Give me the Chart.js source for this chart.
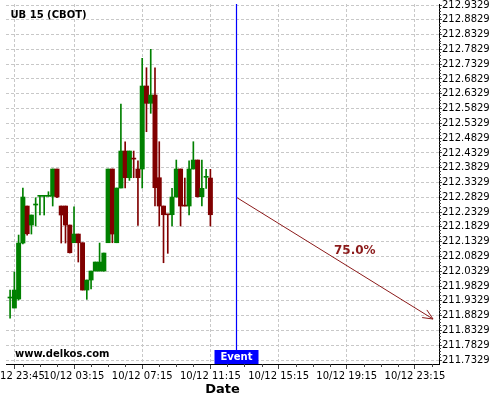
<!DOCTYPE html>
<html>
<head>
<meta charset="utf-8">
<script src="https://cdn.jsdelivr.net/npm/chart.js@4.4.1/dist/chart.umd.min.js"></script>
<style>
  html, body { margin: 0; padding: 0; background: #fff; }
</style>
</head>
<body>
<canvas id="chart" width="500" height="400"></canvas>
<script>
// 15 minute bars, hours counted from 10/12 23:45
const hours = [-0.25, 0, 0.25, 0.5, 0.75, 1, 1.25, 1.5, 1.75, 2, 2.25, 2.5,
  2.75, 3, 3.25, 3.5, 3.75, 4, 4.25, 4.5, 4.75, 5, 5.25, 5.5,
  5.75, 6, 6.25, 6.5, 6.75, 7, 7.25, 7.5, 7.75, 8, 8.25, 8.5,
  8.75, 9, 9.25, 9.5, 9.75, 10, 10.25, 10.5, 10.75, 11, 11.25, 11.5];

const opens = [211.9424, 211.9086, 211.9390, 212.1283, 212.2534, 212.1891, 212.2568, 212.2862, 212.2862, 212.2862, 212.2862, 212.3785,
  212.2534, 212.2534, 212.1891, 212.1293, 212.1587, 212.1293, 211.9694, 212.0032, 212.0336, 212.0336, 212.0336, 212.1293,
  212.3785, 212.1293, 212.3142, 212.4393, 212.3491, 212.4123, 212.3785, 212.3785, 212.6591, 212.6006, 212.6286, 212.3491,
  212.2534, 212.2240, 212.2240, 212.2838, 212.3785, 212.2534, 212.2534, 212.3785, 212.4089, 212.2848, 212.3504, 212.3480];

const highs = [211.9694, 212.0303, 212.1553, 212.3142, 212.2534, 212.2230, 212.2814, 212.2862, 212.2862, 212.3017, 212.3785, 212.3785,
  212.2534, 212.2534, 212.1891, 212.2510, 212.1587, 212.1293, 212.0032, 212.0336, 212.0641, 212.1283, 212.0945, 212.3785,
  212.3785, 212.3142, 212.5982, 212.4708, 212.4393, 212.4393, 212.4065, 212.7527, 212.7209, 212.7831, 212.7209, 212.4708,
  212.2534, 212.2240, 212.3132, 212.4089, 212.3785, 212.3480, 212.4065, 212.4708, 212.4089, 212.4089, 212.3775, 212.3775];

const lows = [211.8747, 211.9086, 211.9356, 212.1253, 212.1553, 212.1587, 212.1858, 212.2230, 212.2230, 212.2862, 212.2534, 212.2814,
  212.1283, 212.1283, 212.0945, 212.1293, 212.0641, 211.9694, 211.9380, 211.9728, 212.0336, 212.0336, 212.0336, 212.1293,
  212.1293, 212.1293, 212.3142, 212.3142, 212.3400, 212.3491, 212.1881, 212.3142, 212.5046, 212.5668, 212.2534, 212.1858,
  212.0617, 212.0935, 212.1858, 212.2838, 212.1858, 212.2534, 212.2230, 212.3785, 212.2838, 212.2534, 212.3132, 212.1858];

const closes = [211.9424, 211.9694, 212.1283, 212.2838, 212.1597, 212.2230, 212.2568, 212.2862, 212.2862, 212.2862, 212.3785, 212.2838,
  212.2230, 212.1891, 212.0955, 212.1587, 212.1293, 211.9694, 212.0032, 212.0336, 212.0641, 212.0641, 212.0945, 212.3785,
  212.1587, 212.3142, 212.4393, 212.3491, 212.4393, 212.4120, 212.3491, 212.6591, 212.6006, 212.6286, 212.3153, 212.2534,
  212.2240, 212.2238, 212.2838, 212.3785, 212.2534, 212.2532, 212.3785, 212.4089, 212.2848, 212.3132, 212.3504, 212.2240];

// event and forecast
const eventHour = 13.0;
const eventLabel = 'Event';
const forecastHours = [13.0, 24.56];
const forecastPrices = [212.2838, 211.8714];
const forecastText = '75.0%';
const forecastTextAt = [18.75, 212.1013];

// axes
const xTickHours = [0, 3.5, 7.5, 11.5, 15.5, 19.5, 23.5];
const xTickLabels = ['10/12 23:45', '10/12 03:15', '10/12 07:15', '10/12 11:15', '10/12 15:15', '10/12 19:15', '10/12 23:15'];
const yTicks = [211.7329, 211.7829, 211.8329, 211.8829, 211.9329, 211.9829, 212.0329, 212.0829, 212.1329,
  212.1829, 212.2329, 212.2829, 212.3329, 212.3829, 212.4329, 212.4829, 212.5329, 212.5829, 212.6329,
  212.6829, 212.7329, 212.7829, 212.8329, 212.8829, 212.9329];

const GREEN = '#008000';
const RED = '#800000';
const ARROW = '#8b1a1a';
const FONT = 'DejaVu Sans';

const candleColors = hours.map((h, i) => closes[i] >= opens[i] ? GREEN : RED);

// draws event line, arrow head, labels and minor ticks
const overlay = {
    id: 'overlay',
    afterDatasetsDraw(chart) {
        const ctx = chart.ctx;
        const xs = chart.scales.x;
        const ys = chart.scales.y;
        const area = chart.chartArea;
        ctx.save();

        // event line
        const ex = Math.round(xs.getPixelForValue(eventHour)) + 0.5;
        ctx.strokeStyle = '#0000ff';
        ctx.lineWidth = 1.2;
        ctx.beginPath();
        ctx.moveTo(ex, area.top);
        ctx.lineTo(ex, area.bottom);
        ctx.stroke();

        // arrow head on forecast line
        const pts = chart.getDatasetMeta(2).data;
        const p0 = pts[0], p1 = pts[1];
        const ang = Math.atan2(p1.y - p0.y, p1.x - p0.x);
        ctx.strokeStyle = ARROW;
        ctx.lineWidth = 1;
        ctx.beginPath();
        [-0.42, 0.42].forEach(d => {
            ctx.moveTo(p1.x, p1.y);
            ctx.lineTo(p1.x - 11 * Math.cos(ang + d), p1.y - 11 * Math.sin(ang + d));
        });
        ctx.stroke();

        // percent label
        ctx.fillStyle = ARROW;
        ctx.font = 'bold 12px "' + FONT + '"';
        ctx.textAlign = 'left';
        ctx.textBaseline = 'middle';
        ctx.fillText(forecastText, xs.getPixelForValue(forecastTextAt[0]), ys.getPixelForValue(forecastTextAt[1]));

        // event box
        ctx.fillStyle = '#0000ff';
        ctx.fillRect(ex - 22, area.bottom - 14, 44, 14);
        ctx.fillStyle = '#ffffff';
        ctx.font = 'bold 10px "' + FONT + '"';
        ctx.textAlign = 'center';
        ctx.fillText(eventLabel, ex, area.bottom - 6.5);

        // title and watermark
        ctx.fillStyle = '#000';
        ctx.textAlign = 'left';
        ctx.font = 'bold 10px "' + FONT + '"';
        ctx.fillText('UB 15 (CBOT)', 10.5, 15.5);
        ctx.fillText('www.delkos.com', 15, 354);

        ctx.font = 'bold 13px "' + FONT + '"';
        ctx.textAlign = 'center';
        ctx.fillText('Date', (area.left + area.right) / 2, 390);

        // minor ticks
        ctx.strokeStyle = '#444';
        ctx.lineWidth = 1;
        ctx.beginPath();
        for (let i = 0; i < yTicks.length - 1; i++) {
            for (let k = 1; k < 5; k++) {
                const py = Math.round(ys.getPixelForValue(yTicks[i] + k * 0.01)) + 0.5;
                ctx.moveTo(area.right, py);
                ctx.lineTo(area.right + 2, py);
            }
        }
        for (let h = 0.5; h < xs.max; h += 1) {
            if (xTickHours.includes(h)) continue;
            const px = Math.round(xs.getPixelForValue(h)) + 0.5;
            ctx.moveTo(px, area.bottom);
            ctx.lineTo(px, area.bottom + 3);
        }
        ctx.stroke();
        ctx.restore();
    }
};

new Chart(document.getElementById('chart'), {
    type: 'bar',
    data: {
        datasets: [
            {
                label: 'body',
                data: hours.map((h, i) => ({ x: h, y: [opens[i], closes[i]] })),
                backgroundColor: candleColors,
                borderWidth: 0,
                barThickness: 4.3,
                minBarLength: 1,
                grouped: false,
                order: 1
            },
            {
                label: 'wick',
                data: hours.map((h, i) => ({ x: h, y: [lows[i], highs[i]] })),
                backgroundColor: candleColors,
                borderWidth: 0,
                barThickness: 1,
                grouped: false,
                order: 2
            },
            {
                type: 'line',
                label: 'forecast',
                data: forecastHours.map((h, i) => ({ x: h, y: forecastPrices[i] })),
                borderColor: ARROW,
                borderWidth: 1,
                pointRadius: 0,
                order: 0
            }
        ]
    },
    options: {
        responsive: false,
        animation: false,
        layout: { padding: { left: 6, top: 4, right: 0, bottom: 0 } },
        plugins: {
            legend: { display: false },
            tooltip: { enabled: false }
        },
        scales: {
            x: {
                type: 'linear',
                min: -0.49,
                max: 24.91,
                offset: false,
                afterBuildTicks: axis => { axis.ticks = xTickHours.map(v => ({ value: v })); },
                afterFit: axis => { axis.height = 36; axis.paddingLeft = 0; axis.paddingRight = 0; },
                grid: { color: '#c8c8c8', offset: false, tickLength: 5, tickColor: '#444' },
                border: { display: true, color: '#000', width: 1, dash: [3, 2] },
                ticks: {
                    autoSkip: false,
                    maxRotation: 0,
                    padding: 1,
                    color: '#000',
                    font: { family: FONT, size: 10 },
                    callback: value => xTickLabels[xTickHours.indexOf(value)]
                }
            },
            y: {
                type: 'linear',
                position: 'right',
                min: 211.7194,
                max: 212.9363,
                afterBuildTicks: axis => { axis.ticks = yTicks.map(v => ({ value: v })); },
                afterFit: axis => { axis.width = 61; axis.paddingTop = 0; axis.paddingBottom = 0; },
                grid: { color: '#c8c8c8', tickLength: 3, tickColor: '#444' },
                border: { display: true, color: '#000', width: 1, dash: [3, 2] },
                ticks: {
                    padding: 0,
                    color: '#000',
                    font: { family: FONT, size: 10 },
                    callback: value => value.toFixed(4)
                }
            }
        }
    },
    plugins: [overlay]
});
</script>
</body>
</html>
